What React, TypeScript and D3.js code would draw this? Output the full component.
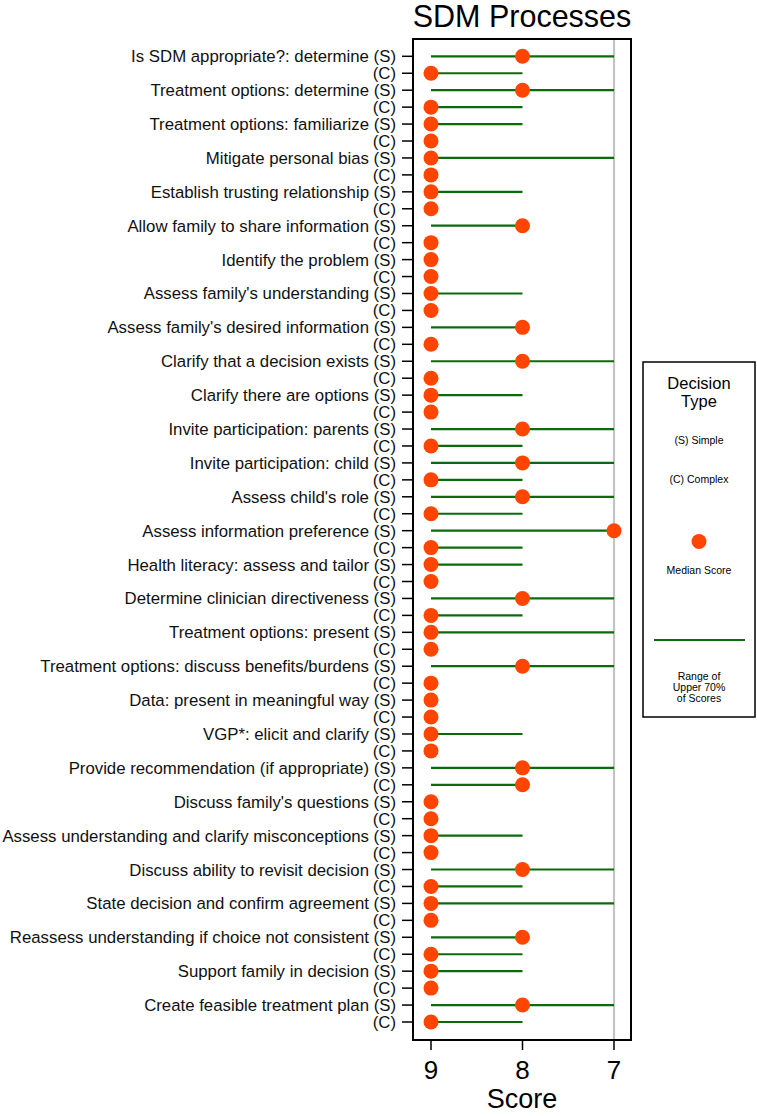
import React, { useEffect, useRef } from 'react';
import * as d3 from 'd3';

// SDM process names (one (S) and one (C) row each)
const processes = [
  'Is SDM appropriate?: determine',
  'Treatment options: determine',
  'Treatment options: familiarize',
  'Mitigate personal bias',
  'Establish trusting relationship',
  'Allow family to share information',
  'Identify the problem',
  "Assess family's understanding",
  "Assess family's desired information",
  'Clarify that a decision exists',
  'Clarify there are options',
  'Invite participation: parents',
  'Invite participation: child',
  "Assess child's role",
  'Assess information preference',
  'Health literacy: assess and tailor',
  'Determine clinician directiveness',
  'Treatment options: present',
  'Treatment options: discuss benefits/burdens',
  'Data: present in meaningful way',
  'VGP*: elicit and clarify',
  'Provide recommendation (if appropriate)',
  "Discuss family's questions",
  'Assess understanding and clarify misconceptions',
  'Discuss ability to revisit decision',
  'State decision and confirm agreement',
  'Reassess understanding if choice not consistent',
  'Support family in decision',
  'Create feasible treatment plan',
];

const simpleMedian = [8, 8, 9, 9, 9, 8, 9, 9, 8, 8, 9, 8, 8, 8, 7, 9, 8, 9, 8, 9, 9, 8, 9, 9, 8, 9, 8, 9, 8];
const simpleRangeEnd = [7, 7, 8, 7, 8, 8, 9, 8, 8, 7, 8, 7, 7, 7, 7, 8, 7, 7, 7, 9, 8, 7, 9, 8, 7, 7, 8, 8, 7];
const complexMedian = [9, 9, 9, 9, 9, 9, 9, 9, 9, 9, 9, 9, 9, 9, 9, 9, 9, 9, 9, 9, 9, 8, 9, 9, 9, 9, 9, 9, 9];
const complexRangeEnd = [8, 8, 9, 9, 9, 9, 9, 9, 9, 9, 9, 8, 8, 8, 8, 9, 8, 9, 9, 9, 9, 8, 9, 9, 8, 9, 8, 9, 8];
const rangeStart = 9;

const xTicks = [9, 8, 7];
const refLine = 7;

const FONT = "'Liberation Sans', Arial, Helvetica, sans-serif";
const DOT = '#ff4500';
const LINE = '#0b6a0b';

export default function App() {
  const svgRef = useRef<SVGSVGElement>(null);

  useEffect(() => {
    const svg = d3.select(svgRef.current);
    svg.selectAll('*').remove();

    // flatten into rows: (S) then (C) for each process
    const rows: { id: string; label: string; median: number; end: number }[] = [];
    processes.forEach((p, i) => {
      rows.push({ id: `s${i}`, label: `${p} (S)`, median: simpleMedian[i], end: simpleRangeEnd[i] });
      rows.push({ id: `c${i}`, label: '(C)', median: complexMedian[i], end: complexRangeEnd[i] });
    });

    const box = { left: 413, right: 631, top: 39, bottom: 1040 };

    const x = d3.scaleLinear().domain([9, 7]).range([431, 614]);
    const y = d3.scalePoint<string>()
      .domain(rows.map(r => r.id))
      .range([56.3, 1022]);

    // title
    svg.append('text')
      .attr('x', (box.left + box.right) / 2)
      .attr('y', 27)
      .attr('text-anchor', 'middle')
      .attr('font-family', FONT)
      .attr('font-size', 30.5)
      .text('SDM Processes');

    // reference line
    svg.append('line')
      .attr('x1', x(refLine)).attr('x2', x(refLine))
      .attr('y1', box.top).attr('y2', box.bottom)
      .attr('stroke', '#c4c4c4')
      .attr('stroke-width', 2.2);

    // ranges
    svg.append('g').selectAll('line')
      .data(rows.filter(r => r.end !== rangeStart))
      .enter()
      .append('line')
      .attr('x1', x(rangeStart))
      .attr('x2', d => x(d.end))
      .attr('y1', d => y(d.id)!)
      .attr('y2', d => y(d.id)!)
      .attr('stroke', LINE)
      .attr('stroke-width', 2.2);

    // medians
    svg.append('g').selectAll('circle')
      .data(rows)
      .enter()
      .append('circle')
      .attr('cx', d => x(d.median))
      .attr('cy', d => y(d.id)!)
      .attr('r', 7.5)
      .attr('fill', DOT);

    // plot frame
    svg.append('rect')
      .attr('x', box.left).attr('y', box.top)
      .attr('width', box.right - box.left)
      .attr('height', box.bottom - box.top)
      .attr('fill', 'none')
      .attr('stroke', '#000')
      .attr('stroke-width', 2);

    // y axis ticks + labels
    const yAxis = svg.append('g');
    yAxis.selectAll('line')
      .data(rows)
      .enter()
      .append('line')
      .attr('x1', 402).attr('x2', box.left)
      .attr('y1', d => y(d.id)!).attr('y2', d => y(d.id)!)
      .attr('stroke', '#000')
      .attr('stroke-width', 1.5);
    yAxis.selectAll('text')
      .data(rows)
      .enter()
      .append('text')
      .attr('x', 396)
      .attr('y', d => y(d.id)! + 6)
      .attr('text-anchor', 'end')
      .attr('font-family', FONT)
      .attr('font-size', 16.8)
      .attr('fill', '#111')
      .text(d => d.label);

    // x axis
    const xAxis = svg.append('g');
    xAxis.selectAll('line')
      .data(xTicks)
      .enter()
      .append('line')
      .attr('x1', d => x(d)).attr('x2', d => x(d))
      .attr('y1', box.bottom).attr('y2', 1050)
      .attr('stroke', '#000')
      .attr('stroke-width', 1.5);
    xAxis.selectAll('text')
      .data(xTicks)
      .enter()
      .append('text')
      .attr('x', d => x(d))
      .attr('y', 1079)
      .attr('text-anchor', 'middle')
      .attr('font-family', FONT)
      .attr('font-size', 26)
      .text(d => d);
    svg.append('text')
      .attr('x', (box.left + box.right) / 2)
      .attr('y', 1108)
      .attr('text-anchor', 'middle')
      .attr('font-family', FONT)
      .attr('font-size', 27)
      .text('Score');

    // legend
    const lg = svg.append('g');
    const lx = 699;
    lg.append('rect')
      .attr('x', 643).attr('y', 362)
      .attr('width', 112).attr('height', 355)
      .attr('fill', '#fff')
      .attr('stroke', '#000')
      .attr('stroke-width', 1.5);
    const legendText = (t: string, yy: number, size: number) =>
      lg.append('text')
        .attr('x', lx).attr('y', yy)
        .attr('text-anchor', 'middle')
        .attr('font-family', FONT)
        .attr('font-size', size)
        .text(t);
    legendText('Decision', 389, 16.5);
    legendText('Type', 407, 16.5);
    legendText('(S) Simple', 444, 10.5);
    legendText('(C) Complex', 483, 10.5);
    lg.append('circle').attr('cx', lx).attr('cy', 541.5).attr('r', 7.5).attr('fill', DOT);
    legendText('Median Score', 574, 10.5);
    lg.append('line')
      .attr('x1', 654).attr('x2', 745)
      .attr('y1', 640).attr('y2', 640)
      .attr('stroke', LINE).attr('stroke-width', 2.2);
    legendText('Range of', 680, 10.5);
    legendText('Upper 70%', 691, 10.5);
    legendText('of Scores', 702, 10.5);
  }, []);

  return (
    <svg
      ref={svgRef}
      width={757}
      height={1116}
      style={{ position: 'absolute', left: 0, top: 0, background: '#fff' }}
    />
  );
}
